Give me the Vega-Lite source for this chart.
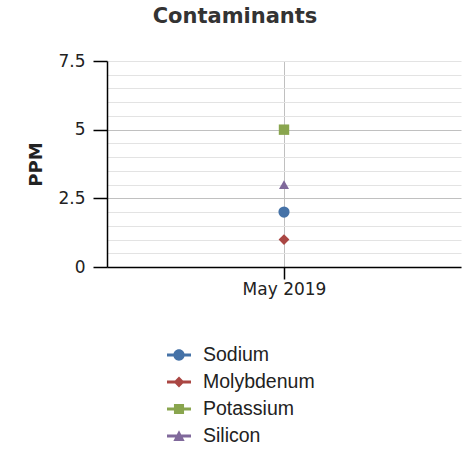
{
  "$schema": "https://vega.github.io/schema/vega-lite/v6.json",
  "autosize": "none",
  "width": 354,
  "height": 206,
  "padding": {"left": 107, "top": 61, "right": 5, "bottom": 182},
  "background": "white",
  "title": {
    "text": "Contaminants",
    "font": "DejaVu Sans",
    "fontSize": 21,
    "fontWeight": "bold",
    "color": "#333333",
    "anchor": "middle",
    "frame": "group",
    "dx": -49,
    "offset": 25
  },
  "data": {
    "values": [
      {"date": "May 2019", "series": "Sodium", "ppm": 2},
      {"date": "May 2019", "series": "Molybdenum", "ppm": 1},
      {"date": "May 2019", "series": "Potassium", "ppm": 5},
      {"date": "May 2019", "series": "Silicon", "ppm": 3}
    ]
  },
  "encoding": {
    "x": {
      "field": "date",
      "type": "nominal",
      "scale": {"type": "point", "padding": 0.5},
      "axis": {
        "title": null,
        "labelAngle": 0,
        "grid": true,
        "gridColor": "#c0c0c0",
        "gridWidth": 1,
        "domainColor": "#000000",
        "domainWidth": 1.5,
        "tickColor": "#000000",
        "tickSize": 12,
        "tickWidth": 1.5,
        "labelFont": "DejaVu Sans",
        "labelFontSize": 17,
        "labelColor": "#222222",
        "labelPadding": 2
      }
    },
    "y": {
      "field": "ppm",
      "type": "quantitative",
      "scale": {"domain": [0, 7.5], "nice": false, "zero": true},
      "axis": {
        "title": "PPM",
        "titleFont": "DejaVu Sans",
        "titleFontSize": 18,
        "titleFontWeight": "bold",
        "titleColor": "#222222",
        "titlePadding": 12,
        "values": [0, 0.5, 1, 1.5, 2, 2.5, 3, 3.5, 4, 4.5, 5, 5.5, 6, 6.5, 7, 7.5],
        "format": ".1~f",
        "labelExpr": "datum.value % 2.5 === 0 ? datum.label : ''",
        "labelFont": "DejaVu Sans",
        "labelFontSize": 17,
        "labelColor": "#222222",
        "labelPadding": 8,
        "grid": true,
        "gridColor": {"condition": {"test": "datum.value === 2.5 || datum.value === 5", "value": "#c0c0c0"}, "value": "#e3e3e3"},
        "gridWidth": 1,
        "domainColor": "#000000",
        "domainWidth": 1.5,
        "tickColor": "#000000",
        "tickOpacity": {"condition": {"test": "datum.value % 2.5 === 0", "value": 1}, "value": 0},
        "tickSize": 14,
        "tickWidth": 1.5
      }
    }
  },
  "layer": [
    {
      "mark": {"type": "point", "filled": true, "opacity": 1},
      "encoding": {
        "color": {
          "field": "series",
          "type": "nominal",
          "scale": {"domain": ["Sodium", "Molybdenum", "Potassium", "Silicon"], "range": ["#4572A7", "#AA4643", "#89A54E", "#80699B"]},
          "legend": null
        },
        "shape": {
          "field": "series",
          "type": "nominal",
          "scale": {"domain": ["Sodium", "Molybdenum", "Potassium", "Silicon"], "range": ["circle", "diamond", "square", "triangle-up"]},
          "legend": null
        },
        "size": {
          "field": "series",
          "type": "nominal",
          "scale": {"domain": ["Sodium", "Molybdenum", "Potassium", "Silicon"], "range": [125, 100, 144, 190]},
          "legend": null
        }
      }
    },
    {
      "mark": {"type": "point", "filled": true, "opacity": 0},
      "encoding": {
        "color": {
          "field": "series",
          "type": "nominal",
          "scale": {"domain": ["Sodium", "Molybdenum", "Potassium", "Silicon"], "range": ["#4572A7", "#AA4643", "#89A54E", "#80699B"]},
          "legend": {
            "title": null,
            "orient": "none",
            "legendX": 60,
            "legendY": 282,
            "direction": "vertical",
            "padding": 0,
            "symbolSize": 576,
            "symbolOpacity": 1,
            "symbolStrokeWidth": 0,
            "labelFont": "Liberation Sans",
            "labelFontSize": 19.5,
            "labelColor": "#222222",
            "labelOffset": 12,
            "rowPadding": 5
          }
        },
        "shape": {
          "field": "series",
          "type": "nominal",
          "scale": {
            "domain": ["Sodium", "Molybdenum", "Potassium", "Silicon"],
            "range": [
              "M-1,-0.125H1V0.125H-1Z M-0.47,0A0.47,0.47 0 1 1 0.47,0A0.47,0.47 0 1 1 -0.47,0Z",
              "M-1,-0.125H1V0.125H-1Z M0,-0.45L0.45,0L0,0.45L-0.45,0Z",
              "M-1,-0.125H1V0.125H-1Z M-0.42,-0.42H0.42V0.42H-0.42Z",
              "M-1,-0.125H1V0.125H-1Z M0,-0.47L0.47,0.42H-0.47Z"
            ]
          },
          "legend": {
            "title": null,
            "orient": "none",
            "legendX": 60,
            "legendY": 282,
            "direction": "vertical",
            "padding": 0,
            "symbolSize": 576,
            "symbolOpacity": 1,
            "symbolStrokeWidth": 0,
            "labelFont": "Liberation Sans",
            "labelFontSize": 19.5,
            "labelColor": "#222222",
            "labelOffset": 12,
            "rowPadding": 5
          }
        }
      }
    }
  ],
  "resolve": {"scale": {"color": "independent", "shape": "independent", "size": "independent"}},
  "config": {"view": {"stroke": null}, "axis": {"gridCap": "butt"}}
}
